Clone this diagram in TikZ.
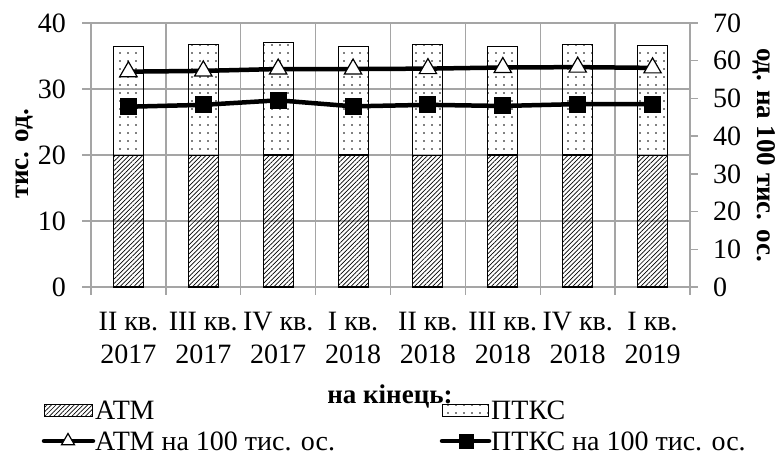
\documentclass[tikz,border=0pt]{standalone}
\usepackage{fontspec}
\setmainfont{Liberation Serif}
\usetikzlibrary{patterns.meta,shapes.geometric}
\definecolor{gridc}{RGB}{165,165,165}
\begin{document}
\begin{tikzpicture}[x=1pt,y=-1pt,
  gridln/.style={gridc,line width=1.4pt},
  barbox/.style={draw=black,line width=1.1pt},
  atmfill/.style={pattern={Lines[angle=45,distance=3.2pt,line width=0.7pt]}},
  ptksfill/.style={pattern={Dots[distance=8pt,radius=0.8pt]}},
  series/.style={line width=4.5pt,line join=round},
  trimark/.style={regular polygon,regular polygon sides=3,draw=black,fill=white,line width=1.2pt,minimum size=20pt,inner sep=0pt},
  sqmark/.style={rectangle,fill=black,minimum size=17pt,inner sep=0pt},
  lbl/.style={font=\fontsize{28}{32}\selectfont,inner sep=0pt},
  ttl/.style={font=\fontsize{27}{32}\selectfont\bfseries,inner sep=0pt}
]
\useasboundingbox (0,0) rectangle (777,461);
% grid
\foreach \v in {0,10,20,30,40}{
  \draw[gridln] (82,{287-6.6*\v}) -- (690,{287-6.6*\v});
  \node[lbl,anchor=east] (L\v) at (66,{287-6.6*\v}) {\v};
}
\draw[gridln] (690,287) -- (698,287);
\foreach \k in {0,...,8}{
  \draw[gridln] ({91+74.875*\k},23) -- ({91+74.875*\k},295);
}
\foreach \v in {0,10,...,70}{
  \draw[gridln] (690,{287-\v*3.77143}) -- (698,{287-\v*3.77143});
  \node[lbl,anchor=west] (R\v) at (713,{287-\v*3.77143}) {\v};
}
% axis titles
\node[ttl,rotate=90] (ytl) at (24,154) {тис. од.};
\node[ttl,rotate=-90] (ytr) at (764,155) {од. на 100 тис. ос.};
% bars and data
\foreach \i/\a/\tot/\t/\s/\qa/\qb in {
  1/19.9/36.4/57.1/47.8/II кв./2017,
  2/19.9/36.7/57.3/48.3/III кв./2017,
  3/20.0/37.0/57.8/49.5/IV кв./2017,
  4/20.0/36.4/57.8/47.9/I кв./2018,
  5/19.9/36.7/57.9/48.3/II кв./2018,
  6/20.0/36.5/58.2/48.0/III кв./2018,
  7/20.0/36.7/58.3/48.5/IV кв./2018,
  8/19.9/36.6/58.1/48.5/I кв./2019}{
  \pgfmathsetmacro{\cx}{91+74.875*(\i-0.5)}
  \draw[barbox,atmfill] ({\cx-15},287) rectangle ({\cx+15},{287-6.6*\a});
  \draw[barbox,ptksfill] ({\cx-15},{287-6.6*\a}) rectangle ({\cx+15},{287-6.6*\tot});
  \coordinate (t\i) at (\cx,{287-\t*3.77143});
  \coordinate (s\i) at (\cx,{287-\s*3.77143});
  \node[lbl,anchor=base] (qa\i) at (\cx,330) {\qa};
  \node[lbl,anchor=base] (qb\i) at (\cx,363) {\qb};
}
\draw[series] (t1) -- (t2) -- (t3) -- (t4) -- (t5) -- (t6) -- (t7) -- (t8);
\draw[series] (s1) -- (s2) -- (s3) -- (s4) -- (s5) -- (s6) -- (s7) -- (s8);
\foreach \i in {1,...,8}{
  \node[trimark] (tm\i) at (t\i) {};
  \node[sqmark] (sm\i) at (s\i) {};
}
% x title
\node[ttl,anchor=base] (xt) at (390,403) {на кінець:};
% legend
\draw[barbox,line width=0.9pt,atmfill] (44,404) rectangle (92,416);
\node[lbl,anchor=base west] (la) at (95,419) {АТМ};
\draw[barbox,line width=0.9pt,ptksfill] (442,404) rectangle (488,416);
\node[lbl,anchor=base west] (lp) at (491,419) {ПТКС};
\coordinate (la1) at (44,441);
\coordinate (la2) at (93,441);
\draw[series,line cap=round] (la1) -- (la2);
\node[trimark,minimum size=15pt] (lat) at (68,441) {};
\node[lbl,anchor=base west] (lta) at (95,450) {АТМ на 100 тис. ос.};
\coordinate (lp1) at (442,441);
\coordinate (lp2) at (489,441);
\draw[series,line cap=round] (lp1) -- (lp2);
\node[sqmark,minimum size=15pt] (lps) at (466,441) {};
\node[lbl,anchor=base west] (ltp) at (491,450) {ПТКС на 100 тис. ос.};
\end{tikzpicture}
\end{document}
